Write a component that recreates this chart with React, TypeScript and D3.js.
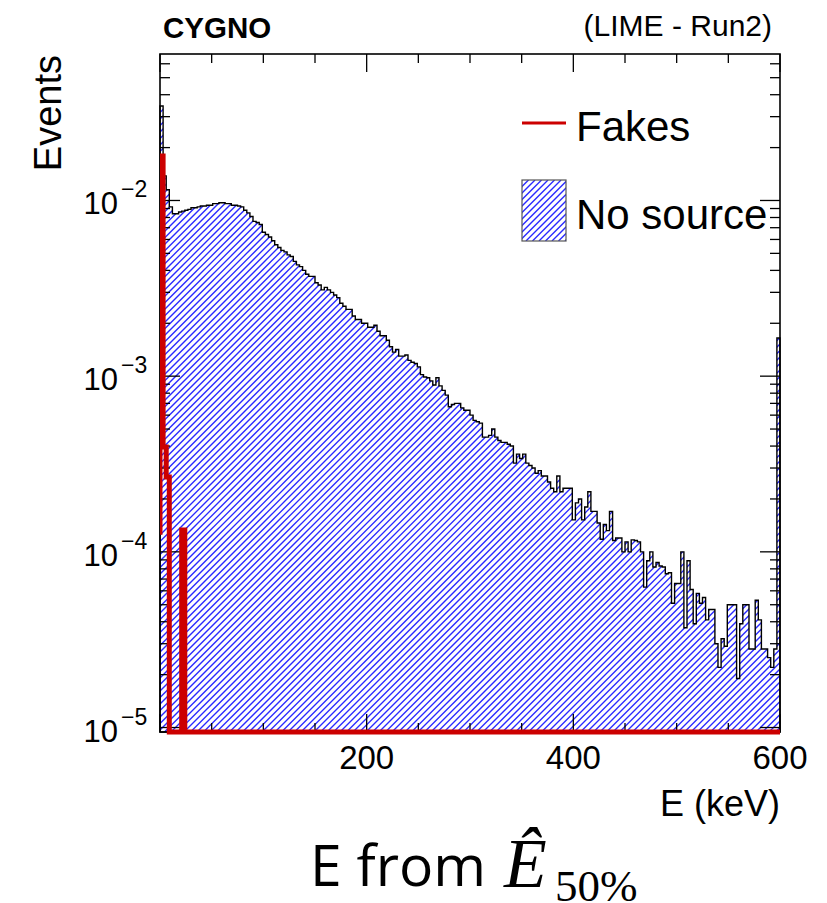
import React from "react";
import * as d3 from "d3";

// ---- data ----
const BIN_WIDTH = 3; // keV per bin
const X_DOMAIN: [number, number] = [0, 600];

const noSourceValues = [
  0.0345, 0.0138, 0.0115, 0.0092, 0.0084, 0.0084, 0.0086, 0.0087, 0.0088, 0.0089,
  0.0091, 0.0091, 0.0092, 0.0093, 0.0093, 0.0094, 0.0094, 0.0096, 0.0096, 0.0097,
  0.0097, 0.0096, 0.0096, 0.0094, 0.0094, 0.0093, 0.0092, 0.0088, 0.0085, 0.0081,
  0.0076, 0.0075, 0.0073, 0.0066, 0.0064, 0.0062, 0.0059, 0.0056, 0.0054, 0.0052,
  0.0051, 0.0049, 0.0048, 0.0045, 0.0043, 0.0042, 0.004, 0.0038, 0.0037, 0.0037,
  0.0034, 0.0033, 0.0031, 0.0032, 0.0031, 0.003, 0.0029, 0.0028, 0.0026, 0.0025,
  0.0024, 0.0024, 0.0022, 0.0021, 0.0021, 0.002, 0.002, 0.0019, 0.0019, 0.00195,
  0.0018, 0.0017, 0.0017, 0.0016, 0.00147, 0.00137, 0.00142, 0.0013, 0.0013, 0.00132,
  0.00123, 0.0012, 0.00118, 0.00113, 0.00102, 0.00099, 0.00098, 0.00094, 0.00089, 0.00098,
  0.00088, 0.00083, 0.00078, 0.00067, 0.00069, 0.0007, 0.0007, 0.00066, 0.00064, 0.00064,
  0.0006, 0.00056, 0.00055, 0.00054, 0.00045, 0.00045, 0.00046, 0.0005, 0.00045, 0.00043,
  0.00042, 0.00042, 0.00041, 0.0004, 0.00032, 0.00036, 0.00034, 0.00036, 0.00032, 0.00031,
  0.0003, 0.00028, 0.00029, 0.00027, 0.00027, 0.00025, 0.00023, 0.00022, 0.00027, 0.00022,
  0.00023, 0.00023, 0.00023, 0.000152, 0.00019, 0.0002, 0.000152, 0.00018, 0.00022, 0.00017,
  0.00017, 0.000146, 0.000118, 0.000143, 0.000132, 0.00017, 0.000116, 0.00012, 0.00012, 0.0001,
  0.000114, 0.0001, 0.000117, 0.000116, 0.000114, 0.0001, 6.3e-5, 8.9e-5, 1.0e-4, 8.2e-5,
  8.7e-5, 8.3e-5, 8.2e-5, 7.5e-5, 7.6e-5, 5.1e-5, 6.6e-5, 6.6e-5, 1.0e-4, 3.7e-5,
  8.9e-5, 6.1e-5, 3.9e-5, 5.8e-5, 5.1e-5, 5.5e-5, 4.1e-5, 4.7e-5, 4.7e-5, 3.0e-5,
  2.2e-5, 3.2e-5, 2.9e-5, 5.0e-5, 5.0e-5, 5.0e-5, 1.9e-5, 3.9e-5, 5.0e-5, 5.0e-5,
  2.8e-5, 2.8e-5, 5.3e-5, 4.1e-5, 2.8e-5, 2.8e-5, 2.5e-5, 2.2e-5, 2.8e-5, 1.65e-3,
];

// Fakes: underflow level at the left edge, then the first bins; zero afterwards
const fakesUnderflow = 1.25e-4;
const fakesValues = [0.0179, 3.95e-4, 2.67e-4, 0, 0, 0, 0, 1.33e-4];

const xTickLabels = [200, 400, 600];
const yLabelExponents = [-5, -4, -3, -2];
const legendLabels = ["Fakes", "No source"];
const seriesColors = { fakes: "#cc0000", hatch: "#2a2aff" };

const SANS = "'Liberation Sans', Arial, Helvetica, sans-serif";
const SERIF = "'Liberation Serif', 'DejaVu Serif', serif";

function Hatch({ x0, y0, x1, y1, step, color }: { x0: number; y0: number; x1: number; y1: number; step: number; color: string }) {
  const h = y1 - y0;
  const starts = d3.range(x0 - h, x1 + step, step);
  return (
    <g stroke={color} strokeWidth={1.35} fill="none">
      {starts.map((s, i) => (
        <line key={i} x1={s} y1={y1} x2={s + h} y2={y0} />
      ))}
    </g>
  );
}

export default function App() {
  const W = 827;
  const H = 903;
  const L = 160;
  const R = 780;
  const T = 54;
  const B = 732;
  const yMin = 9.43e-6;
  const yMax = 0.0682;

  const x = d3.scaleLinear().domain(X_DOMAIN).range([L, R]);
  const y = d3.scaleLog().domain([yMin, yMax]).range([B, T]);
  const yc = (v: number) => (v <= yMin ? B : Math.max(T, y(v)));
  const nBins = Math.round((X_DOMAIN[1] - X_DOMAIN[0]) / BIN_WIDTH);

  const stepPath = (vals: number[], startLevel = 0) => {
    let d = `M${x(X_DOMAIN[0])},${yc(startLevel)}`;
    for (let i = 0; i < nBins; i++) {
      const v = vals[i] ?? 0;
      const yy = yc(v);
      d += `L${x(X_DOMAIN[0] + i * BIN_WIDTH)},${yy}L${x(X_DOMAIN[0] + (i + 1) * BIN_WIDTH)},${yy}`;
    }
    d += `L${x(X_DOMAIN[1])},${B}`;
    return d;
  };

  const noSourcePath = stepPath(noSourceValues) + "Z";

  // ticks
  const xTicks = d3.range(X_DOMAIN[0], X_DOMAIN[1] + 1, 50);
  const yTicks: { v: number; major: boolean }[] = [];
  for (let k = -6; k <= -1; k++) {
    for (let m = 1; m <= 9; m++) {
      const v = m * Math.pow(10, k);
      if (v >= yMin && v <= yMax) yTicks.push({ v, major: m === 1 });
    }
  }

  const legBox = { x: 522, y: 180, w: 44, h: 61 };

  return (
    <>
      <style>{`body{margin:0}`}</style>
      <svg width={W} height={H} viewBox={`0 0 ${W} ${H}`} style={{ display: "block", background: "#fff" }}>
        <defs>
          <clipPath id="histClip">
            <path d={noSourcePath} />
          </clipPath>
          <clipPath id="legClip">
            <rect x={legBox.x} y={legBox.y} width={legBox.w} height={legBox.h} />
          </clipPath>
          <clipPath id="frameClip">
            <rect x={L} y={T - 2} width={R - L + 2} height={B - T + 10} />
          </clipPath>
        </defs>

        {/* No source histogram: hatch + outline */}
        <g clipPath="url(#histClip)">
          <Hatch x0={L} y0={T} x1={R} y1={B} step={6.5} color={seriesColors.hatch} />
        </g>
        <path d={noSourcePath} fill="none" stroke="#000" strokeWidth={1.4} strokeLinejoin="miter" />

        {/* frame */}
        <rect x={L} y={T} width={R - L} height={B - T} fill="none" stroke="#000" strokeWidth={1.6} />

        {/* x ticks */}
        {xTicks.map((t) => {
          const len = t % 200 === 0 ? 18 : 9;
          return (
            <g key={`xt${t}`} stroke="#000" strokeWidth={1.3}>
              <line x1={x(t)} x2={x(t)} y1={B} y2={B - len} />
              <line x1={x(t)} x2={x(t)} y1={T} y2={T + len} />
            </g>
          );
        })}
        {/* y ticks */}
        {yTicks.map((t, i) => {
          const len = t.major ? 20 : 10;
          const yy = y(t.v);
          return (
            <g key={`yt${i}`} stroke="#000" strokeWidth={1.3}>
              <line x1={L} x2={L + len} y1={yy} y2={yy} />
              <line x1={R} x2={R - len} y1={yy} y2={yy} />
            </g>
          );
        })}

        {/* Fakes histogram */}
        <g clipPath="url(#frameClip)">
          <path
            d={stepPath(fakesValues, fakesUnderflow)}
            fill="none"
            stroke={seriesColors.fakes}
            strokeWidth={5}
            strokeLinejoin="miter"
          />
        </g>

        {/* x tick labels */}
        {xTickLabels.map((t) => (
          <text key={`xl${t}`} x={x(t)} y={769} textAnchor="middle" fontFamily={SANS} fontSize={33} fill="#000">
            {t}
          </text>
        ))}
        {/* y tick labels */}
        {yLabelExponents.map((k) => {
          const yy = y(Math.pow(10, k));
          return (
            <g key={`yl${k}`} fontFamily={SANS} fill="#000">
              <text x={118} y={yy + 14} textAnchor="end" fontSize={31}>10</text>
              <text x={121} y={yy - 3} fontSize={23}>{`\u2212${-k}`}</text>
            </g>
          );
        })}

        {/* axis titles */}
        <text x={780} y={816} textAnchor="end" fontFamily={SANS} fontSize={36} fill="#000">E (keV)</text>
        <text transform={`translate(61,55) rotate(-90)`} textAnchor="end" fontFamily={SANS} fontSize={38} fill="#000">Events</text>

        {/* header */}
        <text x={163} y={38} fontFamily={SANS} fontWeight="bold" fontSize={29.5} fill="#000">CYGNO</text>
        <text x={772} y={36} textAnchor="end" fontFamily={SANS} fontSize={30} fill="#000">(LIME - Run2)</text>

        {/* legend */}
        <line x1={522} x2={566} y1={123} y2={123} stroke={seriesColors.fakes} strokeWidth={3} />
        <text x={576} y={141} fontFamily={SANS} fontSize={42} fill="#000">{legendLabels[0]}</text>
        <g clipPath="url(#legClip)">
          <Hatch x0={legBox.x} y0={legBox.y} x1={legBox.x + legBox.w} y1={legBox.y + legBox.h} step={6.5} color={seriesColors.hatch} />
        </g>
        <rect x={legBox.x} y={legBox.y} width={legBox.w} height={legBox.h} fill="none" stroke="#555" strokeWidth={1.2} />
        <text x={576} y={229} fontFamily={SANS} fontSize={42} fill="#000">{legendLabels[1]}</text>

        {/* caption */}
        <text x={310} y={886} fontFamily="'Open Sans', sans-serif" fontSize={57} fill="#000">E from</text>
        <text x={504} y={887} fontFamily={SERIF} fontStyle="italic" fontSize={70} fill="#000">Ê</text>
        <text x={555} y={901} fontFamily={SERIF} fontSize={45} fill="#000">50%</text>
      </svg>
    </>
  );
}
